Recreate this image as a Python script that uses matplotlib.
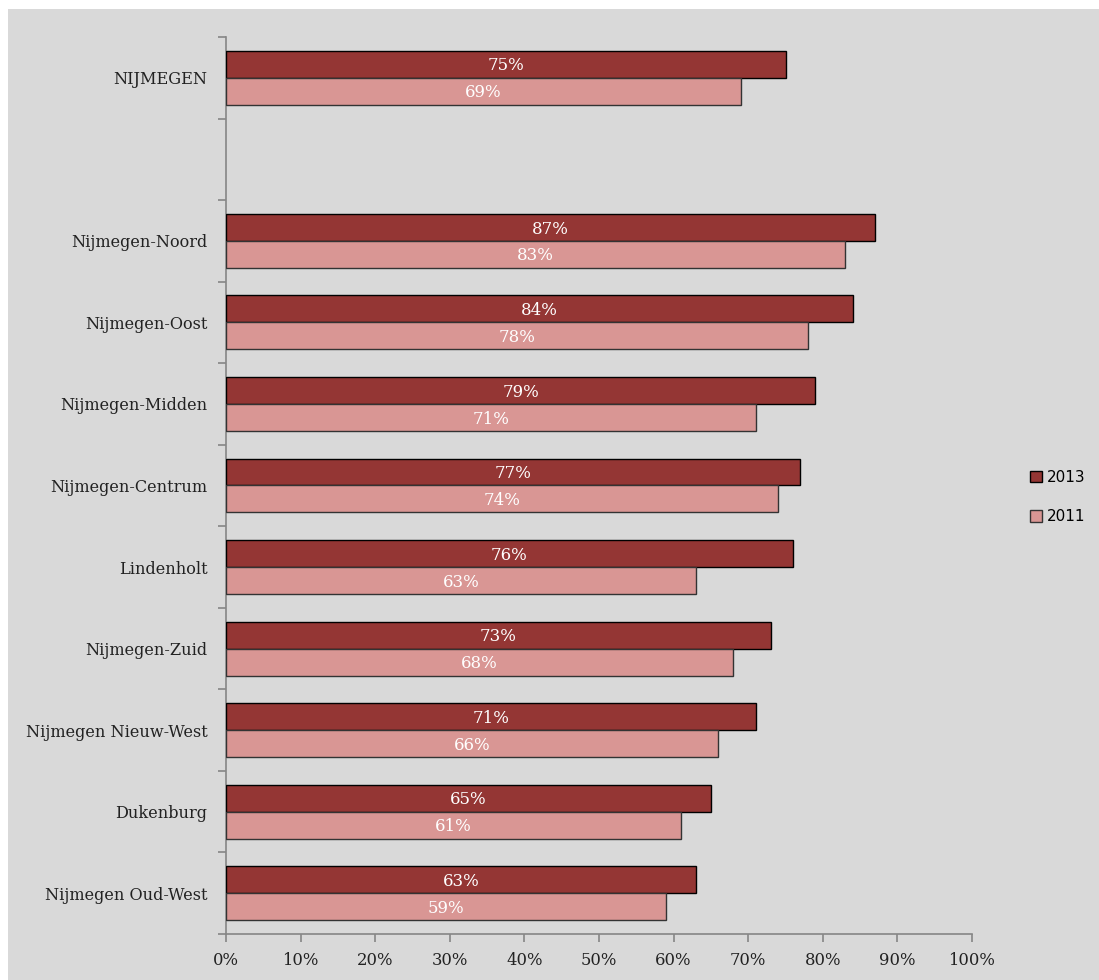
import matplotlib
matplotlib.use("Agg")
import matplotlib.pyplot as plt
from matplotlib.patches import Rectangle
from matplotlib.ticker import FixedLocator, PercentFormatter
import numpy as np

categories = ["NIJMEGEN", "", "Nijmegen-Noord", "Nijmegen-Oost", "Nijmegen-Midden",
              "Nijmegen-Centrum", "Lindenholt", "Nijmegen-Zuid", "Nijmegen Nieuw-West",
              "Dukenburg", "Nijmegen Oud-West"]
values_2013 = [75, None, 87, 84, 79, 77, 76, 73, 71, 65, 63]
values_2011 = [69, None, 83, 78, 71, 74, 63, 68, 66, 61, 59]
series_labels = ["2013", "2011"]
x_ticks = [0, 10, 20, 30, 40, 50, 60, 70, 80, 90, 100]

c2013 = "#943634"
c2011 = "#D99694"
bg = "#D9D9D9"
axis_gray = "#868686"
serif = "DejaVu Serif"

W, H = 1099, 980
fig = plt.figure(figsize=(W / 100, H / 100), dpi=100, facecolor="white")
fig.patches.append(Rectangle((8 / W, 0), 1, (H - 9) / H, transform=fig.transFigure,
                             facecolor=bg, edgecolor="none", zorder=-10))

ax = fig.add_axes([226 / W, (H - 934) / H, (972 - 226) / W, (934 - 37) / H])
ax.set_facecolor("none")

n = len(categories)
y = np.arange(n)
bh = 0.33
for i in range(n):
    v13, v11 = values_2013[i], values_2011[i]
    if v13 is None:
        continue
    ax.barh(y[i] - bh / 2, v13, height=bh, color=c2013, edgecolor="black", linewidth=1.0, zorder=3)
    ax.barh(y[i] + bh / 2, v11, height=bh, color=c2011, edgecolor="#333333", linewidth=1.0, zorder=3)
    ax.text(v13 / 2, y[i] - bh / 2 + 0.02, f"{v13}%", color="white", ha="center", va="center",
            fontsize=12, family=serif, zorder=4)
    ax.text(v11 / 2, y[i] + bh / 2 + 0.02, f"{v11}%", color="white", ha="center", va="center",
            fontsize=12, family=serif, zorder=4)

# legend handles
ax.barh([np.nan], [np.nan], color=c2013, edgecolor="black", label=series_labels[0])
ax.barh([np.nan], [np.nan], color=c2011, edgecolor="#333333", label=series_labels[1])

ax.set_xlim(0, 100)
ax.set_ylim(n - 0.5, -0.5)

ax.yaxis.set_major_locator(FixedLocator(np.arange(-0.5, n, 1.0)))
ax.yaxis.set_minor_locator(FixedLocator(y))
ax.set_yticklabels([], minor=False)
ax.set_yticklabels(categories, minor=True, family=serif, fontsize=11.6, color="#222222")
ax.tick_params(axis="y", which="major", length=6, color=axis_gray, width=1.2)
ax.tick_params(axis="y", which="minor", length=0, pad=13.5)

ax.set_xticks(x_ticks)
ax.xaxis.set_major_formatter(PercentFormatter(decimals=0))
ax.tick_params(axis="x", length=6, color=axis_gray, width=1.2, labelsize=11.8, pad=7, labelcolor="#222222")
for lab in ax.get_xticklabels():
    lab.set_family(serif)

for s in ["top", "right"]:
    ax.spines[s].set_visible(False)
ax.spines["left"].set_color(axis_gray)
ax.spines["bottom"].set_color(axis_gray)
ax.spines["left"].set_linewidth(1.2)
ax.spines["bottom"].set_linewidth(1.2)

leg = fig.legend(loc="center left", bbox_to_anchor=(1016 / W, 1 - 497 / H), frameon=False,
                 handlelength=0.8, handleheight=0.8, handletextpad=0.3, labelspacing=1.6,
                 prop={"family": "DejaVu Sans", "size": 11})

fig.savefig("out.png", dpi=100, facecolor="white")
